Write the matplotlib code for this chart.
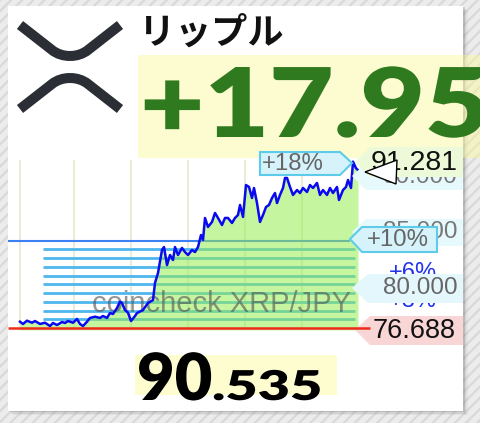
import matplotlib
matplotlib.use('Agg')
import matplotlib.pyplot as plt
import matplotlib.transforms as mtransforms
from matplotlib.patches import Rectangle, Polygon, PathPatch
from matplotlib.path import Path
from matplotlib.textpath import TextPath
from matplotlib.font_manager import FontProperties

# --- DATA ---
coin_name = 'リップル'
pair_label = 'coincheck XRP/JPY'
change_text = '+17.954%'
high_pct_text = '+18%'
last_int, last_dec = '90', '.535'

base_price = 76.688          # start (red line)
high_price = 91.281
band_pcts = [1, 2, 3, 4, 5, 6, 7, 8, 9]
target_pct = 10
axis_prices = [90.0, 85.0, 80.0]
grid_t = [0, 54, 111, 168, 225, 282]

t = [0, 3, 7, 12, 15, 20, 25, 30, 33, 37, 42, 45, 48, 53, 57, 60, 63, 67, 70, 75,
     80, 83, 87, 90, 93, 97, 100, 102, 105, 108, 111, 115, 117, 123, 128, 133, 135,
     138, 142, 144, 147, 150, 153, 155, 158, 162, 165, 168, 172, 175, 178, 181, 183,
     185, 188, 192, 195, 198, 202, 205, 208, 212, 215, 218, 220, 223, 226, 229, 232,
     234, 237, 240, 243, 246, 249, 252, 255, 257, 260, 263, 265, 267, 270, 273, 277,
     280, 283, 287, 290, 293, 297, 300, 303, 307, 310, 313, 317, 319, 323, 326, 328,
     331, 333, 336, 338]
price = [77.24, 77.04, 77.33, 77.15, 77.30, 77.04, 77.15, 76.86, 77.13, 76.95, 77.21,
         77.13, 77.30, 77.15, 77.48, 77.04, 76.86, 77.24, 77.57, 77.68, 77.57, 77.74,
         77.57, 78.00, 77.92, 78.44, 79.00, 78.88, 78.27, 78.03, 77.30, 77.74, 78.00,
         78.27, 78.88, 79.14, 80.64, 81.51, 83.53, 83.79, 82.21, 83.09, 82.65, 83.79,
         83.09, 83.71, 83.35, 83.09, 83.53, 83.35, 83.79, 84.85, 84.41, 86.34, 85.55,
         85.99, 86.78, 86.34, 85.72, 86.34, 86.34, 85.90, 86.34, 86.60, 87.48, 86.43,
         89.23, 89.06, 88.09, 88.97, 87.65, 85.99, 86.60, 87.30, 87.48, 88.09, 88.53,
         87.65, 88.36, 88.97, 89.85, 89.85, 89.06, 88.36, 88.79, 88.53, 88.97, 88.62,
         89.23, 88.97, 89.41, 88.36, 88.79, 88.36, 88.97, 88.53, 89.06, 87.92, 88.79,
         89.06, 89.67, 88.97, 91.28, 90.70, 90.535]

# --- FIGURE SETUP ---
W, H = 480, 423
plt.rcParams['hatch.linewidth'] = 1.6
fig = plt.figure(figsize=(W / 100, H / 100), dpi=100)
ax = fig.add_axes([0, 0, 1, 1])
ax.axis('off')

# chart scale: t offset 20px from left, 11.4 px per yen, base price at 328px
px_per_yen = 11.4
ax.set_xlim(-20, W - 20)
ax.set_ylim(base_price - (H - 328) / px_per_yen, base_price + 328 / px_per_yen)
chart_lo, chart_hi = base_price - 0.17, base_price + 14.75

# pixel transform (origin top-left) for the card decorations
px = mtransforms.Affine2D().scale(0.01, -0.01).translate(0, H / 100) + fig.dpi_scale_trans
heavy = FontProperties(family=['Lato', 'DejaVu Sans'], weight='heavy')


def box(points, fc, ec='none', lw=0, z=5):
    ax.add_patch(Polygon(points, closed=True, transform=px, fc=fc, ec=ec, lw=lw,
                         zorder=z, clip_on=False))


def label(x, y, s, size, color, z=6, ha='center', **kw):
    ax.text(x, y, s, transform=px, fontsize=size, color=color, ha=ha, va='center',
            zorder=z, clip_on=False, family=['Liberation Sans', 'DejaVu Sans'], **kw)


def wide_text(x, base, s, em, stretch, color, z=2):
    # rounded-bold look of the original: a horizontally stretched text path
    tp = TextPath((0, 0), s, size=em, prop=heavy)
    tr = mtransforms.Affine2D().scale(stretch, -1).translate(x, base) + px
    ax.add_patch(PathPatch(tp, transform=tr, fc=color, lw=0, zorder=z, clip_on=False))


# background hatch + card
ax.add_patch(Rectangle((0, 0), W, H, transform=px, fc='#ececec', ec='#d9d9d9',
                       hatch='///', lw=0, zorder=0, clip_on=False))
for off, a in [(3, 0.25), (6, 0.15), (9, 0.08)]:
    ax.add_patch(Rectangle((8 + off / 2, 6 + off / 2), 455, 405, transform=px,
                           fc='#777777', alpha=a, lw=0, zorder=0.5, clip_on=False))
ax.add_patch(Rectangle((8, 6), 455, 405, transform=px, fc='white', lw=0,
                       zorder=1, clip_on=False))

# XRP logo
top = [(20, 25), (52, 50), (62, 58), (78, 58), (88, 50), (120, 25)]
codes = [Path.MOVETO, Path.LINETO, Path.CURVE4, Path.CURVE4, Path.CURVE4, Path.LINETO]
for pts in [top, [(x, 134 - y) for x, y in top]]:
    ax.add_patch(PathPatch(Path(pts, codes), transform=px, fc='none', ec='#2b2e34',
                           lw=7.2, capstyle='butt', zorder=2, clip_on=False))

ax.text(139, 33, coin_name, transform=px, fontsize=26, weight='bold', color='#111111',
        ha='left', va='center', family=['Noto Sans CJK JP', 'DejaVu Sans'], zorder=2)

# big change figure
ax.add_patch(Rectangle((138, 55), W - 138, 103, transform=px, fc='#fafa98',
                       alpha=0.45, lw=0, zorder=1.5, clip_on=False))
wide_text(140, 137, change_text, 96, 1.16, '#2f7a1f')

# --- CHART ---
ax.vlines(grid_t, chart_lo, chart_hi, color='#ecebd6', lw=1.5, zorder=2)
bands = [base_price * (1 + p / 100) for p in band_pcts]
ax.hlines(bands, 23, 335, color='#4db6ef', lw=2.0, zorder=2.1)
target = base_price * (1 + target_pct / 100)
ax.hlines(target, -12, 330, color='#3b7ff0', lw=1.5, zorder=2.1)
ax.fill_between(t, price, chart_lo, color='#97ed52', alpha=0.55, lw=0, zorder=2.2)
label(222, 304, pair_label, 21, '#555555', z=2.3, alpha=0.62)
ax.plot(t, price, color='#0a0af0', lw=1.8, zorder=2.5)

# right side labels
box([(352, 176), (366, 163), (463, 163), (463, 190), (366, 190)], '#e6f9fd')
label(420, 177, '%.3f' % axis_prices[0], 17.5, '#777777')
box([(355, 162), (370, 147), (463, 147), (463, 177), (370, 177)], '#edfad9', z=7)
label(414, 163, '%.3f' % high_price, 20.5, '#111111', z=8)
box([(365, 172), (397, 160), (396, 184)], 'white', ec='black', lw=1.0, z=9)

box([(260, 152), (340, 152), (352, 163), (340, 175), (260, 175)], '#d6f3fb',
    ec='#5ecbea', lw=1.5, z=7)
label(262, 164, high_pct_text, 17.3, '#666666', z=8, ha='left')

box([(352, 232), (366, 219), (463, 219), (463, 246), (366, 246)], '#e6f9fd')
label(420, 232, '%.3f' % axis_prices[1], 17.5, '#777777')
box([(350, 239), (362, 227), (437, 227), (437, 252), (362, 252)], '#d6f3fb',
    ec='#5ecbea', lw=1.5, z=7)
label(367, 240, '+%d%%' % target_pct, 17.3, '#666666', z=8, ha='left')

label(413, 273, '+6%', 17, '#2233ee', z=5.5)
label(413, 301, '+3%', 17, '#2233ee', z=5.5)
box([(352, 288), (368, 274), (463, 274), (463, 303), (368, 303)], '#e4f7fc', z=6)
label(420, 288, '%.3f' % axis_prices[2], 17.5, '#666666', z=6.5)

box([(355, 330), (370, 316), (463, 316), (463, 345), (370, 345)], '#f9d6d6')
label(414, 331, '%.3f' % base_price, 19.5, '#111111')
ax.hlines(base_price, -12, 350, color='#ee2a1a', lw=1.8, zorder=7)

# --- LAST PRICE ---
ax.add_patch(Rectangle((135, 355), 202, 40, transform=px, fc='#fdfdd0', lw=0,
                       zorder=1.5, clip_on=False))
wide_text(137, 400, last_int, 65, 1.0, 'black')
wide_text(212, 400, last_dec, 41, 1.36, 'black')

fig.savefig('out.png', dpi=100)
